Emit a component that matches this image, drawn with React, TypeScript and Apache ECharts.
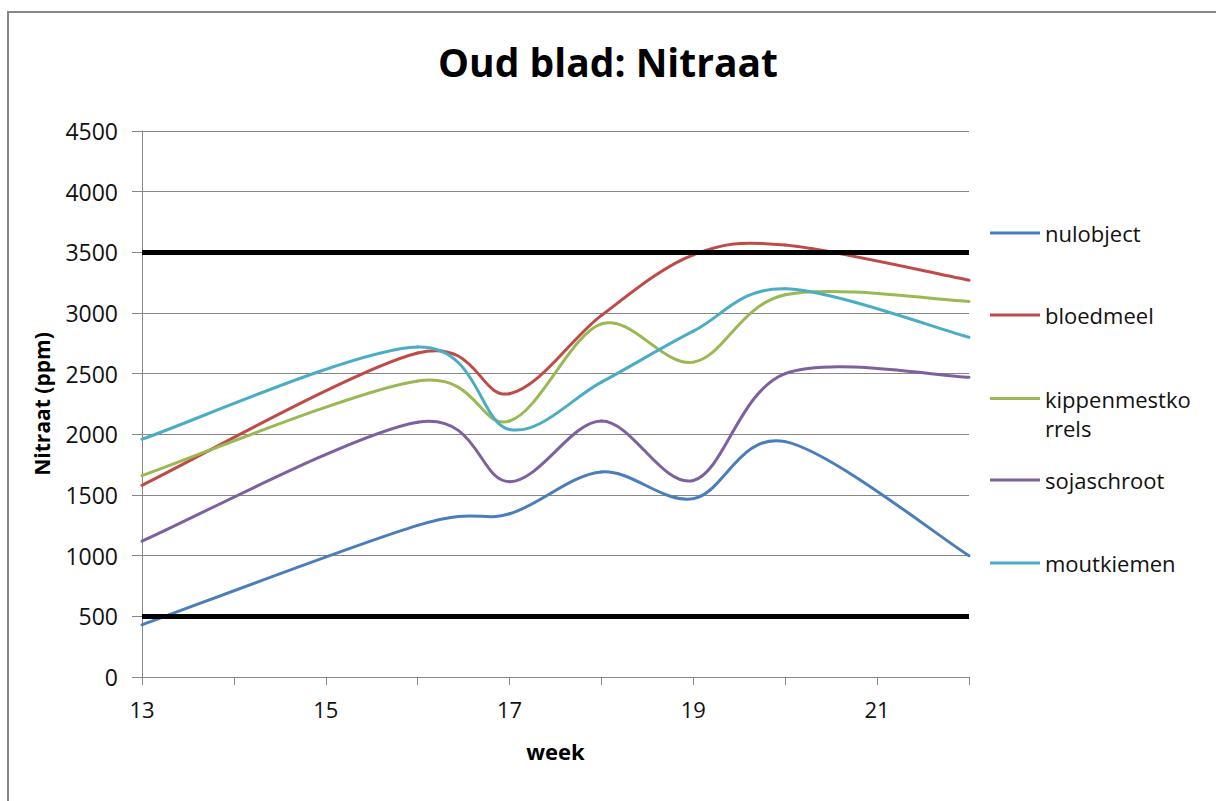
import React, { useEffect, useRef } from "react";
import * as echarts from "echarts";

const weeks = [13, 16, 17, 18, 19, 20, 22];
const nulobject = [430, 1250, 1345, 1690, 1470, 1940, 1000];
const bloedmeel = [1580, 2670, 2335, 2980, 3480, 3560, 3270];
const kippenmestkorrels = [1660, 2440, 2110, 2910, 2595, 3150, 3095];
const sojaschroot = [1120, 2100, 1610, 2110, 1620, 2500, 2470];
const moutkiemen = [1960, 2720, 2040, 2430, 2850, 3200, 2800];
const limitLines = [500, 3500];
const xLabelWeeks = [13, 15, 17, 19, 21];

const seriesNames = ["nulobject", "bloedmeel", "kippenmestkorrels", "sojaschroot", "moutkiemen"];
const seriesValues = [nulobject, bloedmeel, kippenmestkorrels, sojaschroot, moutkiemen];
const colors = ["#4A7EBB", "#BE4B48", "#98B954", "#7D60A0", "#4BACC6"];
const legendCenters = [235, 317, 400, 482, 565];

const FONT = "'Open Sans', 'Liberation Sans', sans-serif";

export default function App() {
  const ref = useRef<HTMLDivElement>(null);
  useEffect(() => {
    if (!ref.current) return;
    const chart = echarts.init(ref.current, null, { renderer: "svg" });
    const series: any[] = seriesNames.map((name, i) => ({
      name,
      type: "custom",
      data: weeks.map((w, j) => [w, seriesValues[i][j]]),
      encode: { x: 0, y: 1 },
      itemStyle: { color: colors[i] },
      z: 2,
      renderItem: (params: any, api: any) => {
        if (params.dataIndex !== 0) return null;
        const vals = seriesValues[i];
        const pts = weeks.map((w, j) => api.coord([w, vals[j]]));
        const n = pts.length;
        const children: any[] = [];
        for (let k = 0; k < n - 1; k++) {
          const p0 = pts[Math.max(k - 1, 0)];
          const p1 = pts[k];
          const p2 = pts[k + 1];
          const p3 = pts[Math.min(k + 2, n - 1)];
          children.push({
            type: "bezierCurve",
            shape: {
              x1: p1[0],
              y1: p1[1],
              cpx1: p1[0] + (p2[0] - p0[0]) / 6,
              cpy1: p1[1] + (p2[1] - p0[1]) / 6,
              cpx2: p2[0] - (p3[0] - p1[0]) / 6,
              cpy2: p2[1] - (p3[1] - p1[1]) / 6,
              x2: p2[0],
              y2: p2[1],
            },
            style: { stroke: colors[i], lineWidth: 3, fill: "none", lineCap: "round" },
          });
        }
        return { type: "group", children };
      },
    }));
    series.push({
      name: "grenzen",
      type: "line",
      data: [],
      z: 5,
      markLine: {
        silent: true,
        symbol: "none",
        label: { show: false },
        lineStyle: { color: "#000", width: 5, type: "solid" },
        data: limitLines.map((v) => ({ yAxis: v })),
        z: 5,
      },
    });
    const legends = seriesNames.map((name, i) => {
      const isWrap = name === "kippenmestkorrels";
      return {
        data: [name],
        orient: "vertical",
        left: 990,
        top: isWrap ? legendCenters[i] - 45 : legendCenters[i] - 13,
        icon: "rect",
        itemWidth: 50,
        itemHeight: 3,
        itemGap: 0,
        padding: 0,
        selectedMode: false,
        formatter: isWrap ? () => "\nkippenmestko\nrrels" : undefined,
        textStyle: isWrap
          ? { fontFamily: FONT, fontSize: 22, color: "#111", lineHeight: 29 }
          : { fontFamily: FONT, fontSize: 22, color: "#111" },
      };
    });
    chart.setOption({
      animation: false,
      backgroundColor: "#fff",
      title: {
        text: "Oud blad: Nitraat",
        left: "center",
        top: 37,
        textStyle: { fontFamily: FONT, fontSize: 39, fontWeight: "bold", color: "#000" },
      },
      legend: legends,
      grid: { left: 142, right: 247, top: 131, bottom: 124 },
      xAxis: {
        type: "value",
        min: 13,
        max: 22,
        interval: 1,
        name: "week",
        nameLocation: "middle",
        nameGap: 63,
        nameTextStyle: { fontFamily: FONT, fontSize: 22, fontWeight: "bold", color: "#000" },
        axisLine: { show: true, lineStyle: { color: "#868686", width: 1 } },
        axisTick: { show: true, length: 8, lineStyle: { color: "#868686" } },
        splitLine: { show: false },
        axisLabel: {
          fontFamily: FONT,
          fontSize: 22,
          color: "#111",
          margin: 21,
          formatter: (v: number) => (xLabelWeeks.includes(v) ? String(v) : ""),
        },
      },
      yAxis: {
        type: "value",
        min: 0,
        max: 4500,
        interval: 500,
        name: "Nitraat (ppm)",
        nameLocation: "middle",
        nameGap: 90,
        nameTextStyle: { fontFamily: FONT, fontSize: 21, fontWeight: "bold", color: "#000" },
        axisLine: { show: true, lineStyle: { color: "#868686", width: 1 } },
        axisTick: { show: true, length: 10, lineStyle: { color: "#868686" } },
        splitLine: { show: true, lineStyle: { color: "#868686", width: 1 } },
        axisLabel: {
          fontFamily: FONT,
          fontSize: 23,
          color: "#111",
          margin: 24,
          formatter: (v: number) => String(v),
        },
      },
      graphic: [
        {
          type: "rect",
          shape: { x: 8, y: 12, width: 1300, height: 900 },
          style: { fill: "none", stroke: "#878787", lineWidth: 2 },
          silent: true,
        },
      ],
      series,
    });
    return () => chart.dispose();
  }, []);
  return (
    <div
      ref={ref}
      style={{ position: "absolute", left: 0, top: 0, width: 1216, height: 801 }}
    />
  );
}
